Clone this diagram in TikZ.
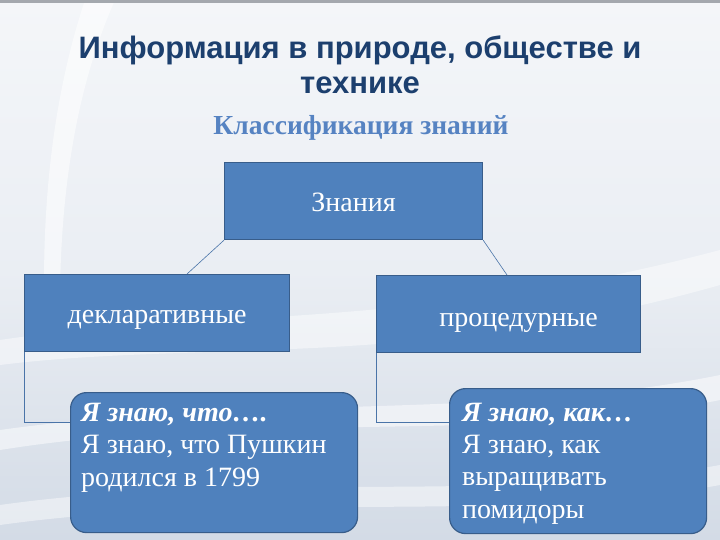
\documentclass[tikz,border=0pt]{standalone}
\usepackage{fontspec}
\setmainfont{Liberation Serif}
\newfontfamily\titlefont{Liberation Sans}
\usetikzlibrary{calc}
\definecolor{bgtop}{HTML}{F4F6F9}
\definecolor{bgbot}{HTML}{D3DBE6}
\definecolor{boxfill}{HTML}{4F81BD}
\definecolor{boxborder}{HTML}{385D8A}
\definecolor{linkcol}{HTML}{4A74A8}
\definecolor{titlecol}{HTML}{1C3F6E}
\definecolor{subcol}{HTML}{5683C2}
\definecolor{topbar}{HTML}{A4A8AE}
\newcommand{\boxtext}[2]{\raisebox{-#1pt}[0pt][0pt]{#2}}
\begin{document}
\begin{tikzpicture}[x=1pt,y=-1pt,
  box/.style={draw=boxborder, line width=1.2pt, fill=boxfill, text=white,
    font=\fontsize{28}{32}\selectfont, inner sep=0pt, anchor=north west},
  rbox/.style={box, rounded corners=16pt},
  link/.style={draw=linkcol, line width=0.6pt},
  inner/.style={anchor=base west, text=white, inner sep=0pt}]
\useasboundingbox (0,0) rectangle (720,540);
% background
\shade[top color=bgtop, bottom color=bgbot, middle color=bgtop!70!bgbot] (0,0) rectangle (720,540);
\fill[white, opacity=0.55] (85,0) .. controls (55,90) and (40,200) .. (45,330)
  -- (60,330) .. controls (58,200) and (75,90) .. (115,0) -- cycle;
\fill[white, opacity=0.45] (0,340) .. controls (200,310) and (420,330) .. (720,250)
  -- (720,285) .. controls (420,370) and (200,340) .. (0,365) -- cycle;
\fill[white, opacity=0.5] (0,430) .. controls (250,395) and (500,420) .. (720,375)
  -- (720,400) .. controls (500,445) and (250,410) .. (0,450) -- cycle;
\fill[white, opacity=0.45] (0,505) .. controls (250,470) and (500,505) .. (720,465)
  -- (720,485) .. controls (500,525) and (250,490) .. (0,525) -- cycle;
\fill[topbar] (0,0) rectangle (720,3);
% titles
\node[inner sep=0pt, anchor=base, text=titlecol] (title) at (360,58.5)
  {\parbox[t]{700pt}{\centering\titlefont\bfseries\fontsize{31}{35.5}\selectfont
   Информация в природе, обществе и\\технике}};
\node[font=\bfseries\fontsize{27.5}{30}\selectfont, text=subcol, anchor=base, inner sep=0pt] (sub) at (361,135) {Классификация знаний};
% boxes
\node[box, minimum width=258pt, minimum height=77pt] (zn) at (224,162) {\boxtext{10.7}{Знания}};
\node[box, minimum width=265pt, minimum height=77pt] (dek) at (24,274) {\boxtext{10.8}{декларативные}};
\node[box, minimum width=264pt, minimum height=77pt] (proc) at (376,275) {\hspace*{20pt}\boxtext{12}{процедурные}};
\node[rbox, minimum width=287pt, minimum height=140pt] (b1) at (70,392) {};
\node[rbox, minimum width=257pt, minimum height=145pt] (b2) at (449,388) {};
% connectors
\draw[link] (zn.south west) -- ($(dek.north west)+(163,0)$);
\draw[link] (zn.south east) -- ($(proc.north west)+(131,0)$);
\draw[link] (dek.south west) |- ($(b1.north west)+(0,30)$);
\draw[link] (proc.south west) |- ($(b2.north west)+(0,34)$);
% texts in rounded boxes
\node[inner] (t1) at (81,421) {\parbox[t]{270pt}{\raggedright\fontsize{28}{32.5}\selectfont
  \textbf{\textit{Я знаю, что….}}\\Я знаю, что Пушкин\\родился в 1799}};
\node[inner] (t2) at (462,421.7) {\parbox[t]{240pt}{\raggedright\fontsize{28}{32.1}\selectfont
  \textbf{\textit{Я знаю, как…}}\\Я знаю, как\\выращивать\\помидоры}};
\end{tikzpicture}
\end{document}
